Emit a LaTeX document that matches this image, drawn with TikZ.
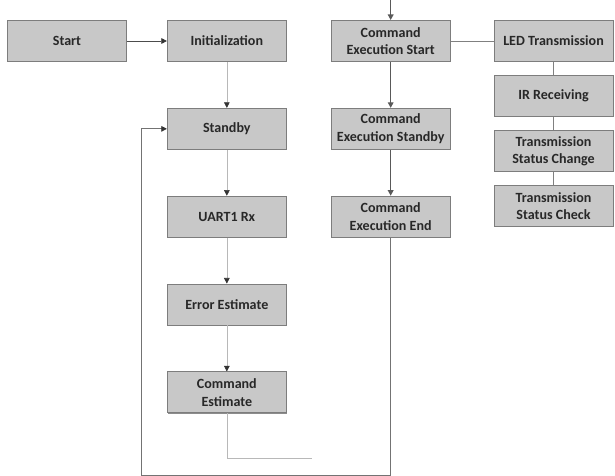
\documentclass[tikz,border=0pt]{standalone}
\usepackage{fontspec}
\setmainfont{Carlito}
\usetikzlibrary{arrows.meta,positioning,shadows}

\definecolor{boxgray}{RGB}{200,200,200}
\definecolor{edgegray}{RGB}{125,125,125}
\definecolor{txtgray}{RGB}{40,40,40}

\begin{document}
\begin{tikzpicture}[
  node distance = 1.15cm,
  blk/.style  = {rectangle, draw=edgegray, fill=boxgray, line width=0.6pt,
                 minimum width=2.975cm, minimum height=1.025cm, inner sep=1pt,
                 align=center, text=txtgray,
                 font=\bfseries\fontsize{10}{12.5}\selectfont,
                 drop shadow={shadow xshift=0.6pt, shadow yshift=-0.6pt,
                              fill=black, opacity=0.45}},
  lnk/.style  = {draw=black!28, line width=0.4pt,
                 -{Triangle[length=4pt, width=4pt, color=black!80]}},
  flow/.style = {draw=black!65, line width=1.1pt,
                 -{Triangle[length=4pt, width=4pt]}},
  tie/.style  = {draw=black!50, line width=0.5pt},
  ret/.style  = {draw=black!55, line width=0.6pt}
]
\useasboundingbox (0,0) rectangle (15.375,-11.9);

% main loop
\node[blk] (start) at (1.675,-1.025) {Start};
\node[blk, right=1cm of start] (init) {Initialization};
\node[blk, below=of init]  (stby) {Standby};
\node[blk, below=of stby]  (uart) {UART1 Rx};
\node[blk, below=of uart]  (err)  {Error Estimate};
\node[blk, below=of err]   (cmd)  {Command\\Estimate};

% command execution
\node[blk, right=1.1cm of init] (cxs) {Command\\Execution Start};
\node[blk, below=of cxs]   (cxw)  {Command\\Execution Standby};
\node[blk, below=of cxw]   (cxe)  {Command\\Execution End};

% transmission
\node[blk, right=1.075cm of cxs] (led) {LED Transmission};
\node[blk, below=0.33cm of led]  (ir)  {IR Receiving};
\node[blk, below=0.33cm of ir]   (tsc) {Transmission\\Status Change};
\node[blk, below=0.33cm of tsc]  (tsk) {Transmission\\Status Check};

\coordinate (top)    at ([yshift=0.5cm]cxs.north);
\coordinate (cmdbot) at ([yshift=-1.125cm]cmd.south);
\coordinate (cmdend) at ([xshift=2.125cm]cmdbot);
\coordinate (retl)   at (3.525,-11.875);

\draw[lnk, draw=black!70, line width=0.5pt] (start) -- (init);
\draw[lnk] (init)  -- (stby);
\draw[lnk] (stby)  -- (uart);
\draw[lnk] (uart)  -- (err);
\draw[lnk] (err)   -- (cmd);
\draw[draw=black!28, line width=0.4pt] (cmd.south) -- (cmdbot) -- (cmdend);

\draw[flow] (top) -- (cxs);
\draw[flow] (cxs) -- (cxw);
\draw[flow] (cxw) -- (cxe);

\draw[tie] (cxs) -- (led);
\draw[tie] (led) -- (ir);
\draw[tie] (ir)  -- (tsc);
\draw[tie] (tsc) -- (tsk);

\draw[ret, -{Triangle[length=4pt, width=4pt, color=black!80]}]
  (cxe.south) |- (retl) |- (stby.west);
\end{tikzpicture}
\end{document}
